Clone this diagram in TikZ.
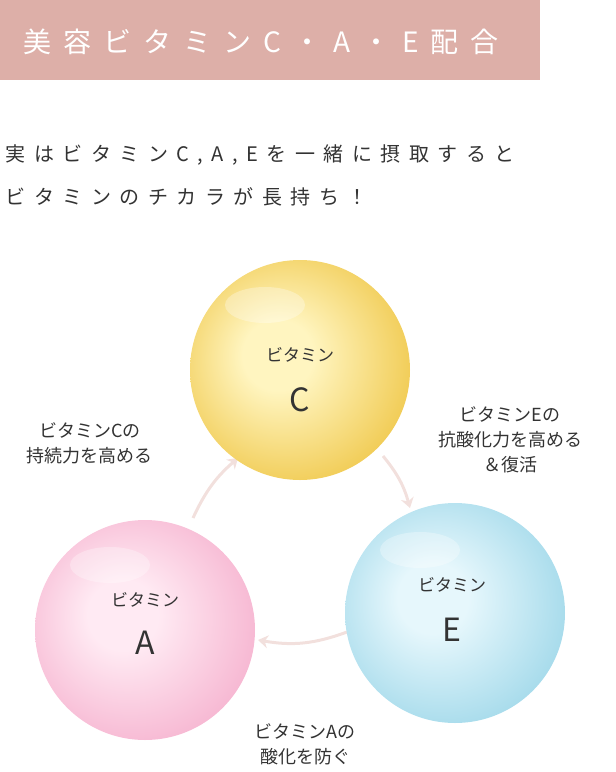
\documentclass[tikz,border=0pt]{standalone}
\usepackage{fontspec}
\setmainfont{Noto Sans CJK JP}
\usetikzlibrary{arrows.meta}
\definecolor{hdr}{HTML}{DDAFA8}
\definecolor{txt}{HTML}{333333}
\definecolor{arr}{HTML}{F2E0DD}
\definecolor{cY}{HTML}{F0C94E}\definecolor{cYl}{HTML}{FFF5C0}\definecolor{cYd}{HTML}{D99A2A}
\definecolor{cP}{HTML}{F6B4D0}\definecolor{cPl}{HTML}{FFEAF3}\definecolor{cPd}{HTML}{EB90BA}
\definecolor{cB}{HTML}{A2D9EA}\definecolor{cBl}{HTML}{E6F7FC}\definecolor{cBd}{HTML}{78C6DE}
\pgfdeclareradialshading{sphY}{\pgfpoint{-6bp}{4bp}}{color(0bp)=(cYl);color(8bp)=(cYl);color(30bp)=(cY);color(44bp)=(cY);color(50bp)=(cYd)}
\pgfdeclareradialshading{sphP}{\pgfpoint{-6bp}{4bp}}{color(0bp)=(cPl);color(8bp)=(cPl);color(30bp)=(cP);color(44bp)=(cP);color(50bp)=(cPd)}
\pgfdeclareradialshading{sphB}{\pgfpoint{-6bp}{4bp}}{color(0bp)=(cBl);color(8bp)=(cBl);color(30bp)=(cB);color(44bp)=(cB);color(50bp)=(cBd)}
\tikzset{
 lbl/.style={font=\fontsize{18}{25}\selectfont, text=txt, align=center},
 small/.style={font=\fontsize{17}{20}\selectfont, text=txt},
 big/.style={font=\fontsize{32}{34}\selectfont, text=txt},
 flow/.style={arr, line width=3pt, -{Stealth[length=10pt,width=13pt]}},
 ball/.style={circle, minimum size=220pt, inner sep=0pt},
}
\newcommand{\gA}{\hspace{12pt}}
\newcommand{\gB}{\hspace{8.5pt}}
\begin{document}
\begin{tikzpicture}[x=1pt,y=-1pt]
\useasboundingbox (0,0) rectangle (616,772);
\fill[hdr] (0,0) rectangle (540,80);
\node[anchor=west, text=white, font=\fontsize{28}{30}\selectfont] (title) at (20,42) {美\gA 容\gA ビ\gA タ\gA ミ\gA ン\gA C\gA・\gA A\gA・\gA E\gA 配\gA 合};
\node[anchor=west, text=txt, font=\fontsize{20}{22}\selectfont] (l1) at (2,155) {実\gB は\gB ビ\gB タ\gB ミ\gB ン\gB C\gB ,\gB A\gB ,\gB E\gB を\gB 一\gB 緒\gB に\gB 摂\gB 取\gB す\gB る\gB と};
\node[anchor=west, text=txt, font=\fontsize{20}{22}\selectfont] (l2) at (2,197) {ビ\gB タ\gB ミ\gB ン\gB の\gB チ\gB カ\gB ラ\gB が\gB 長\gB 持\gB ち\gB ！};
% arrows
\coordinate (a1s) at (193,518); \coordinate (a1e) at (238,458);
\coordinate (a2s) at (383,456); \coordinate (a2e) at (410,508);
\coordinate (a3s) at (347,632); \coordinate (a3e) at (258,640);
\draw[flow] (a1s) to[bend left=12] (a1e);
\draw[flow] (a2s) to[bend left=12] (a2e);
\draw[flow] (a3s) to[bend left=15] (a3e);
% spheres
\node[ball, shading=sphY] (C) at (300,370) {};
\node[ball, shading=sphP] (A) at (145,630) {};
\node[ball, shading=sphB] (E) at (455,613) {};
\fill[white, opacity=0.3] (265,305) ellipse (40 and 18);
\fill[white, opacity=0.3] (110,565) ellipse (40 and 18);
\fill[white, opacity=0.3] (420,550) ellipse (40 and 18);
\node[small] (Ct) at (300,355) {ビタミン};
\node[big] (Cb) at (300,400) {C};
\node[small] (At) at (145,600) {ビタミン};
\node[big] (Ab) at (145,643) {A};
\node[small] (Et) at (452,585) {ビタミン};
\node[big] (Eb) at (452,630) {E};
\node[lbl] (lc) at (90,443) {ビタミンCの\\持続力を高める};
\node[lbl] (le) at (510,440) {ビタミンEの\\抗酸化力を高める\\＆復活};
\node[lbl] (la) at (305,744) {ビタミンAの\\酸化を防ぐ};
\end{tikzpicture}
\end{document}
